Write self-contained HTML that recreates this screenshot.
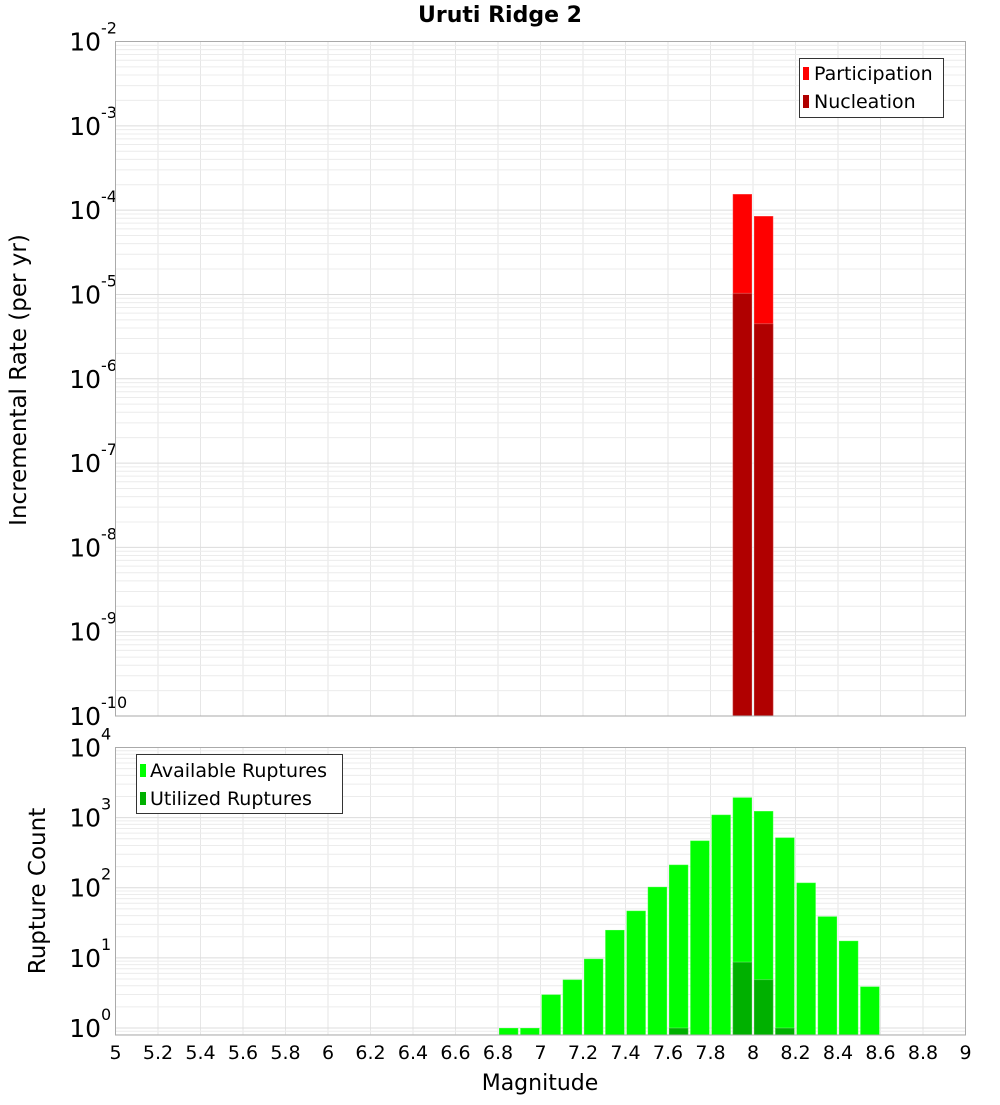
<!DOCTYPE html>
<html><head><meta charset="utf-8"><style>
body{margin:0;background:#fff;}
svg text{font-family:"DejaVu Sans","Liberation Sans",sans-serif;}
</style></head><body>
<svg id="c" width="1000" height="1100" xmlns="http://www.w3.org/2000/svg">
<text x="500" y="22" text-anchor="middle" font-weight="bold" font-size="22">Uruti Ridge 2</text>
<g id="top"></g>
<g id="bot"></g>
<text transform="translate(26,380) rotate(-90)" text-anchor="middle" font-size="23">Incremental Rate (per yr)</text>
<text transform="translate(45,891) rotate(-90)" text-anchor="middle" font-size="23">Rupture Count</text>
<text x="540" y="1090" text-anchor="middle" font-size="22">Magnitude</text>
<g>
<rect x="799.5" y="58.5" width="144" height="59" fill="#fff" stroke="#333"/>
<rect x="803" y="67" width="6" height="13" fill="#ff0000"/>
<text x="814" y="80" font-size="19">Participation</text>
<rect x="803" y="95" width="6" height="13" fill="#b00000"/>
<text x="814" y="108" font-size="19">Nucleation</text>
</g>
<g>
<rect x="136.5" y="754.5" width="206" height="59" fill="#fff" stroke="#333"/>
<rect x="140" y="764" width="6" height="13" fill="#00ff00"/>
<text x="150" y="777" font-size="19">Available Ruptures</text>
<rect x="140" y="792" width="6" height="13" fill="#00b000"/>
<text x="150" y="805" font-size="19">Utilized Ruptures</text>
</g>
</svg>
<script>
const xTicks=[5,5.2,5.4,5.6,5.8,6,6.2,6.4,6.6,6.8,7,7.2,7.4,7.6,7.8,8,8.2,8.4,8.6,8.8,9];
const rateMags=[7.95,8.05];
const participation=[1.55e-4,8.5e-5];
const nucleation=[1.03e-5,4.5e-6];
const countMags=[6.85,6.95,7.05,7.15,7.25,7.35,7.45,7.55,7.65,7.75,7.85,7.95,8.05,8.15,8.25,8.35,8.45,8.55];
const available=[1,1,3,4.9,9.7,25,47,103,213,470,1100,1940,1240,520,118,39,17.5,3.9];
const utilizedMags=[7.65,7.95,8.05,8.15];
const utilized=[1,8.7,4.9,1];
const rateDecades=[-10,-9,-8,-7,-6,-5,-4,-3,-2];
const countDecades=[0,1,2,3,4];

const NS='http://www.w3.org/2000/svg';
const X0=115.5,X1=965.5;
const xs=m=>X0+(m-5)/4*(X1-X0);
const T={top:41.5,bot:716,lo:-10,hi:-2};
const B={top:747.5,bot:1035,lo:-0.1,hi:4};
const ys=(p,v)=>p.top+(p.hi-Math.log10(v))/(p.hi-p.lo)*(p.bot-p.top);
function mk(tag,at,parent){const e=document.createElementNS(NS,tag);for(const k in at)e.setAttribute(k,at[k]);parent.appendChild(e);return e;}

function frame(g,p,decs,name){
  for(const t of xTicks){const l=mk('line',{x1:xs(t),x2:xs(t),y1:p.top,y2:p.bot,stroke:'#e6e6e6'},g);
    
    }
  for(let d=Math.floor(p.lo);d<p.hi;d++)for(let k=1;k<10;k++){
    const v=k*Math.pow(10,d);const lv=Math.log10(v); if(lv<p.lo||lv>p.hi)continue;
    const y=ys(p,v);const l=mk('line',{x1:X0,x2:X1,y1:y,y2:y,stroke:k==1?'#dcdcdc':'#ececec'},g);
    
    }
  for(const d of decs){const y=ys(p,Math.pow(10,d));
    const t=mk('text',{x:101,y:y+9,'text-anchor':'end','font-size':25},g);t.textContent='10';
    
    
    const s=mk('text',{x:101,y:y-8,'font-size':16},g);s.textContent=String(d);
    
    }
}
function bars(g,p,mags,vals,fill,name){
  mags.forEach((m,i)=>{const x=xs(m-0.05)+1,w=xs(m+0.05)-xs(m-0.05)-2;const y=ys(p,vals[i]);
    const r=mk('rect',{x:x,y:y,width:w,height:p.bot-y,fill:fill,stroke:'#fff','stroke-opacity':0.25},g);
    
    });
}
const gt=document.getElementById('top'),gb=document.getElementById('bot');
frame(gt,T,rateDecades,'rate');
bars(gt,T,rateMags,participation,'#ff0000','participation-bar');
bars(gt,T,rateMags,nucleation,'#b00000','nucleation-bar');
mk('rect',{x:X0,y:T.top,width:X1-X0,height:T.bot-T.top,fill:'none',stroke:'#aaa'},gt);
frame(gb,B,countDecades,'count');
bars(gb,B,countMags,available,'#00ff00','available-bar');
bars(gb,B,utilizedMags,utilized,'#00b000','utilized-bar');
mk('rect',{x:X0,y:B.top,width:X1-X0,height:B.bot-B.top,fill:'none',stroke:'#aaa'},gb);
for(const t of xTicks){const e=mk('text',{x:xs(t),y:1059,'text-anchor':'middle','font-size':19},gb);e.textContent=String(t);
  
  }
</script>
</body></html>
